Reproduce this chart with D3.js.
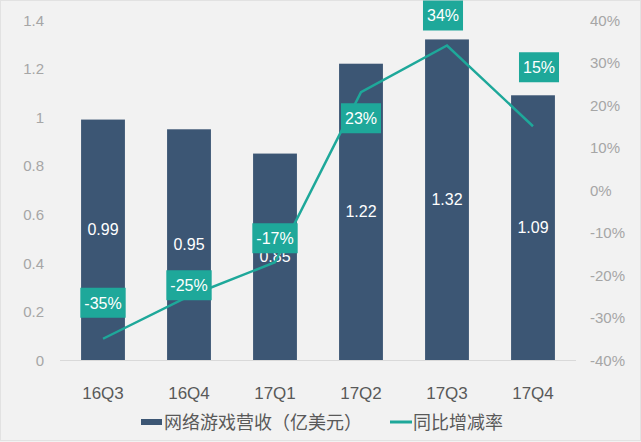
<!DOCTYPE html>
<html lang="zh-CN">
  <head>
    <meta charset="UTF-8">
    <title>网络游戏营收</title>
    <style>
      html, body {
        margin: 0;
        padding: 0;
        background: #f2f2f2;
      }

      svg {
        display: block;
        font-family: "Liberation Sans", Arial, sans-serif;
      }

      .tick text {
        fill: #a6a6a6;
        font-size: 15px;
      }

      .cat text {
        fill: #595959;
        font-size: 17px;
      }

      .legend text {
        fill: #595959;
        font-size: 18px;
        font-family: "Noto Sans CJK SC", sans-serif;
      }
    </style>
  </head>
  <body>
    <svg width="641" height="442"></svg>
    <script src="https://cdn.jsdelivr.net/npm/d3@7"></script>
    <script>

      // 数据
      const quarters = ['16Q3', '16Q4', '17Q1', '17Q2', '17Q3', '17Q4']
      const revenue = [0.99, 0.95, 0.85, 1.22, 1.32, 1.09]
      const growth = [-35, -25, -17, 23, 34, 15]
      const leftTicks = [0, 0.2, 0.4, 0.6, 0.8, 1, 1.2, 1.4]
      const rightTicks = [-40, -30, -20, -10, 0, 10, 20, 30, 40]

      // 标签的手动偏移（像素）
      const valueLabelDy = [-10, 0, 0, 0, 0, 0]
      const pctLabelDy = [-36, -11, -24, 26, -30, -59]
      const pctLabelDx = [0, 0, 0, 0, -4, 6]

      const barColor = '#3c5674'
      const teal = '#1ea89a'

      const svg = d3.select('svg')

      // 外框
      svg.append('rect')
        .attr('x', 0.5).attr('y', 0.5)
        .attr('width', 640).attr('height', 440)
        .attr('fill', '#f2f2f2')
        .attr('stroke', '#e2e2e2')

      // 水印
      const wm = [[190, 95], [330, 250], [200, 385]]
      svg.selectAll('.wm').data(wm).enter().append('text')
        .attr('class', 'wm')
        .attr('transform', d => 'translate(' + d[0] + ',' + d[1] + ') rotate(-20)')
        .attr('text-anchor', 'middle')
        .style('font-family', '"Noto Sans CJK SC", sans-serif')
        .style('font-size', '18px')
        .style('font-weight', 'bold')
        .attr('fill', 'rgba(0,0,0,0.025)')
        .text('腾讯科技')

      const x = d3.scaleBand()
        .domain(quarters)
        .range([60, 576])
        .paddingInner(0.49)
        .paddingOuter(0.245)

      const yL = d3.scaleLinear().domain([0, 1.4]).range([360, 20])
      const yR = d3.scaleLinear().domain([-40, 40]).range([360, 20])

      // 左轴
      const gl = svg.append('g')
        .attr('transform', 'translate(44,0)')
        .call(d3.axisLeft(yL).tickValues(leftTicks).tickSize(0).tickPadding(0)
          .tickFormat(d3.format('~g')))
      gl.select('.domain').remove()
      gl.selectAll('.tick text').attr('dy', '0.35em')

      // 右轴
      const gr = svg.append('g')
        .attr('transform', 'translate(590,0)')
        .call(d3.axisRight(yR).tickValues(rightTicks).tickSize(0).tickPadding(0)
          .tickFormat(d => d + '%'))
      gr.select('.domain').remove()
      gr.selectAll('.tick text').attr('dy', '0.35em')

      // 柱子
      svg.selectAll('.bar').data(revenue).enter().append('rect')
        .attr('class', 'bar')
        .attr('x', (d, i) => x(quarters[i]))
        .attr('y', d => yL(d))
        .attr('width', x.bandwidth())
        .attr('height', d => yL(0) - yL(d))
        .attr('fill', barColor)

      // 基线
      svg.append('line')
        .attr('x1', 60).attr('x2', 576)
        .attr('y1', yL(0) + 0.5).attr('y2', yL(0) + 0.5)
        .attr('stroke', '#d9d9d9')

      // 柱子数值
      svg.selectAll('.val').data(revenue).enter().append('text')
        .attr('class', 'val')
        .attr('x', (d, i) => x(quarters[i]) + x.bandwidth() / 2)
        .attr('y', (d, i) => (yL(d) + yL(0)) / 2 + valueLabelDy[i])
        .attr('dy', '0.35em')
        .attr('text-anchor', 'middle')
        .attr('fill', '#fff')
        .style('font-size', '16px')
        .text(d => d3.format('.2f')(d))

      // 折线
      const cx = i => x(quarters[i]) + x.bandwidth() / 2
      const line = d3.line()
        .x((d, i) => cx(i))
        .y(d => yR(d))
      svg.append('path')
        .datum(growth)
        .attr('d', line)
        .attr('fill', 'none')
        .attr('stroke', teal)
        .attr('stroke-width', 2.5)

      // 百分比标签
      const lab = svg.selectAll('.pct').data(growth).enter().append('g')
        .attr('class', 'pct')
        .attr('transform', (d, i) =>
          'translate(' + (cx(i) + pctLabelDx[i]) + ',' + (yR(d) + pctLabelDy[i]) + ')')
      lab.append('text')
        .attr('text-anchor', 'middle')
        .attr('dy', '0.36em')
        .attr('fill', '#fff')
        .style('font-size', '16px')
        .text(d => d + '%')
      lab.each(function () {
        const g = d3.select(this)
        const bb = g.select('text').node().getBBox()
        g.insert('rect', 'text')
          .attr('x', bb.x - 4)
          .attr('y', -15)
          .attr('width', bb.width + 8)
          .attr('height', 30)
          .attr('fill', teal)
      })

      // 分类标签
      const cat = svg.append('g').attr('class', 'cat')
      cat.selectAll('text').data(quarters).enter().append('text')
        .attr('x', d => x(d) + x.bandwidth() / 2)
        .attr('y', 393)
        .attr('dy', '0.35em')
        .attr('text-anchor', 'middle')
        .text(d => d)

      // 图例
      const lg = svg.append('g').attr('class', 'legend')
      lg.append('rect')
        .attr('x', 141).attr('y', 419).attr('width', 21).attr('height', 6)
        .attr('fill', barColor)
      lg.append('text')
        .attr('x', 164).attr('y', 423).attr('dy', '0.35em')
        .text('网络游戏营收（亿美元）')
      lg.append('line')
        .attr('x1', 390).attr('x2', 412).attr('y1', 422).attr('y2', 422)
        .attr('stroke', teal).attr('stroke-width', 3)
      lg.append('text')
        .attr('x', 413).attr('y', 423).attr('dy', '0.35em')
        .text('同比增减率')

    </script>
  </body>
</html>
